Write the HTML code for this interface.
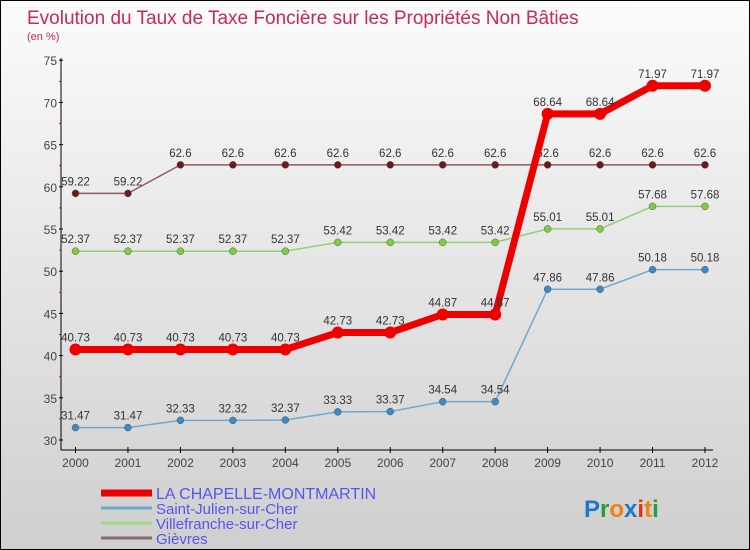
<!DOCTYPE html>
<html><head><meta charset="utf-8"><style>
body{margin:0}
#c{width:750px;height:550px;position:relative;box-sizing:border-box;border:1px solid #000;background:linear-gradient(#fbfbfb,#cfcfcf);font-family:"Liberation Sans",sans-serif;overflow:hidden}
</style></head><body>
<div id="c">
<svg id="s" width="748" height="548"></svg>
</div>
<script>
const years=[2000,2001,2002,2003,2004,2005,2006,2007,2008,2009,2010,2011,2012];
const chapelle=[40.73,40.73,40.73,40.73,40.73,42.73,42.73,44.87,44.87,68.64,68.64,71.97,71.97];
const julien=[31.47,31.47,32.33,32.32,32.37,33.33,33.37,34.54,34.54,47.86,47.86,50.18,50.18];
const villefranche=[52.37,52.37,52.37,52.37,52.37,53.42,53.42,53.42,53.42,55.01,55.01,57.68,57.68];
const gievres=[59.22,59.22,62.6,62.6,62.6,62.6,62.6,62.6,62.6,62.6,62.6,62.6,62.6];
const yTicks=[30,35,40,45,50,55,60,65,70,75];
const labels={chapelle:["40.73","40.73","40.73","40.73","40.73","42.73","42.73","44.87","44.87","68.64","68.64","71.97","71.97"],
julien:["31.47","31.47","32.33","32.32","32.37","33.33","33.37","34.54","34.54","47.86","47.86","50.18","50.18"],
villefranche:["52.37","52.37","52.37","52.37","52.37","53.42","53.42","53.42","53.42","55.01","55.01","57.68","57.68"],
gievres:["59.22","59.22","62.6","62.6","62.6","62.6","62.6","62.6","62.6","62.6","62.6","62.6","62.6"]};
const NS="http://www.w3.org/2000/svg",s=document.getElementById('s');
const X=i=>74.5+i*(704-74.5)/12, Y=v=>439-(v-30)*8.44;
function el(t,a,txt){const e=document.createElementNS(NS,t);for(const k in a)e.setAttribute(k,a[k]);if(txt!=null)e.textContent=txt;s.appendChild(e);return e;}
let e;
e=el('text',{x:26,y:23,fill:'#c8285a','font-size':19},'Evolution du Taux de Taxe Foncière sur les Propriétés Non Bâties');

e=el('text',{x:26,y:39,fill:'#c8285a','font-size':11},'(en %)');

e=el('line',{x1:60,y1:57,x2:60,y2:449,stroke:'#000'});
e=el('line',{x1:60,y1:449,x2:712,y2:449,stroke:'#000'});
yTicks.forEach(v=>{e=el('line',{x1:58,x2:62,y1:Y(v),y2:Y(v),stroke:'#000'});
e=el('text',{x:56,y:Y(v)+5,'text-anchor':'end','font-size':12,fill:'#444'},v);
if(v<75){e=el('line',{x1:58,x2:60,y1:Y(v+2.5),y2:Y(v+2.5),stroke:'#e00'});}});
years.forEach((y,i)=>{e=el('line',{x1:X(i),x2:X(i),y1:446,y2:452,stroke:'#000'});
e=el('text',{x:X(i),y:466,'text-anchor':'middle','font-size':12,fill:'#444'},y);});
function series(name,data,lab,color,w,dot,dotc){
 e=el('polyline',{points:data.map((v,i)=>X(i)+','+Y(v)).join(' '),fill:'none',stroke:color,'stroke-width':w,'stroke-linejoin':'round'});
 
 data.forEach((v,i)=>{e=el('circle',{cx:X(i),cy:Y(v),r:dot,fill:dotc,stroke:w>3?'none':'#555','stroke-width':0.5});
  
  e=el('text',{x:X(i),y:Y(v)-8,'text-anchor':'middle','font-size':11.5,fill:'#333'},lab[i]);
  });
}
series('gievres',gievres,labels.gievres,'#8b5a5a',1.5,3.5,'#6b1a1a');
series('villefranche',villefranche,labels.villefranche,'#90d070',1.5,3.5,'#80cc40');
series('julien',julien,labels.julien,'#70a8d0',1.5,3.5,'#3a8ac8');
series('chapelle',chapelle,labels.chapelle,'#ee0000',7,6,'#ee0000');
const leg=[['LA CHAPELLE-MONTMARTIN','#ee0000',7],['Saint-Julien-sur-Cher','#70a8d0',3],['Villefranche-sur-Cher','#a0d880',3],['Gièvres','#8b6a6a',3]];
leg.forEach((l,i)=>{const y=492+i*15;
 e=el('line',{x1:100,x2:151,y1:y,y2:y,stroke:l[1],'stroke-width':l[2]});
 e=el('text',{x:155,y:y+6,'font-size':i==0?16:15,fill:'#5555ee'},l[0]);});
e=el('text',{x:583,y:516,'font-size':24,'font-weight':'bold'});
[['P','#1a78d0'],['r','#2a9a3a'],['o','#f08010'],['x','#1a78d0'],['i','#e83010'],['t','#f08010'],['i','#2a9a3a']].forEach(c=>{const t=document.createElementNS(NS,'tspan');t.setAttribute('fill',c[1]);t.textContent=c[0];e.appendChild(t);});
</script>
</body></html>
